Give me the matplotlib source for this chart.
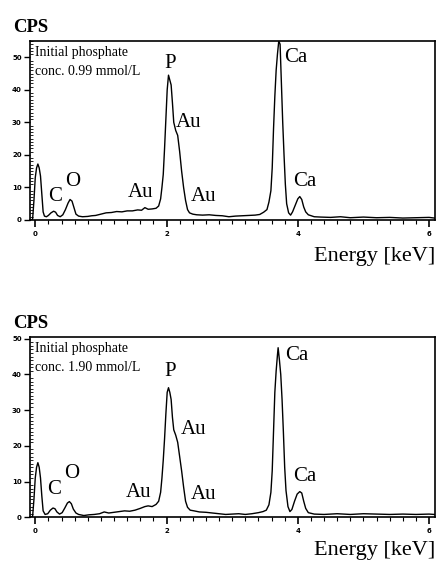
import numpy as np
import matplotlib
matplotlib.use("Agg")
import matplotlib.pyplot as plt
from matplotlib.ticker import MultipleLocator

# EDX spectra (energy in keV, counts per second)
energy_a = [-0.06, -0.04, -0.02, 0.00, 0.02, 0.04, 0.06, 0.08, 0.10, 0.12, 0.14, 0.17,
            0.20, 0.24, 0.28, 0.31, 0.34, 0.38, 0.42, 0.46, 0.50, 0.53, 0.56, 0.59,
            0.62, 0.66, 0.72, 0.80, 0.86, 0.92, 1.00, 1.08, 1.16, 1.24, 1.32, 1.40,
            1.48, 1.56, 1.62, 1.67, 1.72, 1.78, 1.84, 1.88, 1.91, 1.93, 1.95, 1.97,
            1.99, 2.01, 2.03, 2.05, 2.07, 2.09, 2.11, 2.14, 2.17, 2.20, 2.23, 2.26,
            2.29, 2.32, 2.35, 2.40, 2.46, 2.55, 2.65, 2.75, 2.85, 2.95, 3.05, 3.15,
            3.25, 3.35, 3.42, 3.48, 3.53, 3.56, 3.59, 3.61, 3.63, 3.65, 3.67, 3.69,
            3.71, 3.73, 3.75, 3.77, 3.79, 3.81, 3.83, 3.86, 3.89, 3.92, 3.96, 4.00,
            4.03, 4.06, 4.09, 4.12, 4.16, 4.25, 4.35, 4.50, 4.65, 4.80, 5.00, 5.20,
            5.40, 5.60, 5.80, 6.00, 6.08]
cps_a = [0, 0.3, 6, 13, 16, 17.2, 16, 13.5, 8, 2.5, 1.2, 1.0,
         1.4, 2.2, 2.7, 2.4, 1.4, 1.0, 1.6, 3.2, 5.2, 6.3, 5.8, 3.8,
         1.8, 1.2, 1.0, 1.1, 1.3, 1.4, 1.8, 2.2, 2.3, 2.6, 2.5, 2.8,
         2.8, 3.1, 3.0, 3.8, 3.3, 3.4, 3.6, 4.3, 6.5, 10, 14, 22,
         31, 40, 44.5, 43, 41.5, 36, 30, 27.5, 26, 21, 15, 10,
         6, 3.2, 2.2, 1.8, 1.6, 1.5, 1.6, 1.4, 1.3, 1.0, 1.2, 1.3,
         1.4, 1.5, 1.7, 2.4, 3.2, 5.5, 9, 16, 28, 38, 46, 51,
         55, 54, 42, 30, 20, 11, 5, 2.2, 1.5, 2.5, 4.5, 6.5,
         7.2, 6.3, 4.0, 2.5, 1.6, 1.0, 0.9, 0.8, 1.0, 0.7, 0.9, 0.7,
         0.8, 0.6, 0.7, 0.8, 0.6]

energy_b = [-0.06, -0.04, -0.02, 0.00, 0.02, 0.04, 0.06, 0.08, 0.10, 0.12, 0.15, 0.19,
            0.23, 0.27, 0.30, 0.33, 0.37, 0.41, 0.45, 0.49, 0.52, 0.55, 0.58, 0.62,
            0.66, 0.74, 0.82, 0.90, 0.98, 1.05, 1.12, 1.20, 1.28, 1.36, 1.44, 1.52,
            1.60, 1.67, 1.72, 1.78, 1.84, 1.88, 1.91, 1.93, 1.95, 1.97, 1.99, 2.01,
            2.03, 2.05, 2.07, 2.09, 2.11, 2.14, 2.17, 2.20, 2.23, 2.26, 2.29, 2.32,
            2.36, 2.42, 2.50, 2.60, 2.70, 2.80, 2.90, 3.00, 3.10, 3.20, 3.30, 3.40,
            3.47, 3.52, 3.56, 3.59, 3.61, 3.63, 3.65, 3.67, 3.69, 3.70, 3.72, 3.74,
            3.76, 3.78, 3.80, 3.82, 3.85, 3.88, 3.91, 3.95, 3.99, 4.03, 4.06, 4.09,
            4.12, 4.16, 4.25, 4.40, 4.60, 4.80, 5.00, 5.20, 5.40, 5.60, 5.80, 6.00,
            6.08]
cps_b = [0, 0.3, 5, 11, 14, 15.3, 14, 11, 6, 1.8, 0.8, 1.0,
         2.0, 2.6, 2.4, 1.5, 0.9, 1.3, 2.6, 4.0, 4.4, 3.8, 2.3, 1.2,
         0.8, 0.5, 0.7, 0.8, 1.0, 1.5, 1.2, 1.4, 1.6, 1.8, 1.7, 2.0,
         2.5, 3.0, 3.2, 3.0, 3.6, 4.5, 7, 11, 16, 22, 29, 35,
         36.3, 35, 33, 28, 24.5, 23, 21, 17, 13, 8.5, 4.5, 2.8,
         2.0, 1.8, 1.5, 1.4, 1.2, 1.0, 0.8, 0.9, 1.0, 0.8, 1.0, 1.3,
         1.6, 2.0, 3.5, 7, 13, 24, 35, 41, 45.5, 47.5, 44, 40,
         33, 24, 14, 7.5, 3, 1.6, 2.2, 4.5, 6.5, 7.2, 6.8, 4.5,
         2.5, 1.3, 0.9, 0.8, 1.0, 0.8, 1.0, 0.9, 0.8, 0.9, 0.8, 0.9,
         0.8]

peak_names = ["C", "O", "Au", "P", "Au", "Au", "Ca", "Ca"]
peak_pos_a = [(0.30, 7.1), (0.57, 11.7), (1.60, 8.6), (2.05, 48.2),
              (2.34, 30.1), (2.56, 7.1), (3.97, 49.9), (4.11, 11.7)]
peak_pos_b = [(0.29, 7.9), (0.55, 12.2), (1.57, 6.9), (2.05, 40.8),
              (2.41, 24.5), (2.56, 6.5), (3.98, 45.3), (4.11, 11.3)]

conc_text = ["conc. 0.99 mmol/L", "conc. 1.90 mmol/L"]

serif = "Liberation Serif"
W, H = 437, 563


def rect(left, top, right, bottom):
    # pixel box -> figure fraction
    return [left / W, 1 - bottom / H, (right - left) / W, (bottom - top) / H]


fig = plt.figure(figsize=(4.37, 5.63), dpi=100)

panels = [
    (energy_a, cps_a, peak_pos_a, conc_text[0], rect(30, 41, 435, 220), 55, 27, 257),
    (energy_b, cps_b, peak_pos_b, conc_text[1], rect(30, 337, 435, 517.3), 50.5, 323, 551),
]

for e, c, pos, conc, box, ymax, cps_y, en_y in panels:
    ax = fig.add_axes(box)
    ax.plot(e, c, color="black", lw=1.0)
    ax.set_xlim(-0.08, 6.09)
    ax.set_ylim(0, ymax)
    for s in ax.spines.values():
        s.set_linewidth(1.2)
    ax.xaxis.set_major_locator(MultipleLocator(2))
    ax.xaxis.set_minor_locator(MultipleLocator(0.2))
    ax.yaxis.set_major_locator(MultipleLocator(10))
    ax.yaxis.set_minor_locator(MultipleLocator(1))
    ax.tick_params(axis="x", which="major", direction="out", length=5, width=1.2, pad=3)
    ax.tick_params(axis="x", which="minor", direction="out", length=3, width=0.8)
    ax.tick_params(axis="y", which="major", direction="out", length=4, width=1.0, pad=2)
    ax.tick_params(axis="y", which="minor", direction="in", length=2, width=0.6)
    for lab in ax.get_xticklabels() + ax.get_yticklabels():
        lab.set_fontsize(5)
        lab.set_fontweight("bold")

    ax.text(0.012, 0.935, "Initial phosphate", transform=ax.transAxes,
            family=serif, fontsize=10, va="center", ha="left")
    ax.text(0.012, 0.83, conc, transform=ax.transAxes,
            family=serif, fontsize=10, va="center", ha="left")

    for name, (x, y) in zip(peak_names, pos):
        ax.text(x, y, name, family=serif, fontsize=15, ha="center", va="center")

    fig.text(13 / W, 1 - cps_y / H, "CPS", family=serif, fontsize=13.5,
             fontweight="bold", ha="left", va="center")
    fig.text(435 / W, 1 - en_y / H, "Energy [keV]", family=serif, fontsize=16,
             ha="right", va="center")

fig.savefig("out.png", dpi=100)
